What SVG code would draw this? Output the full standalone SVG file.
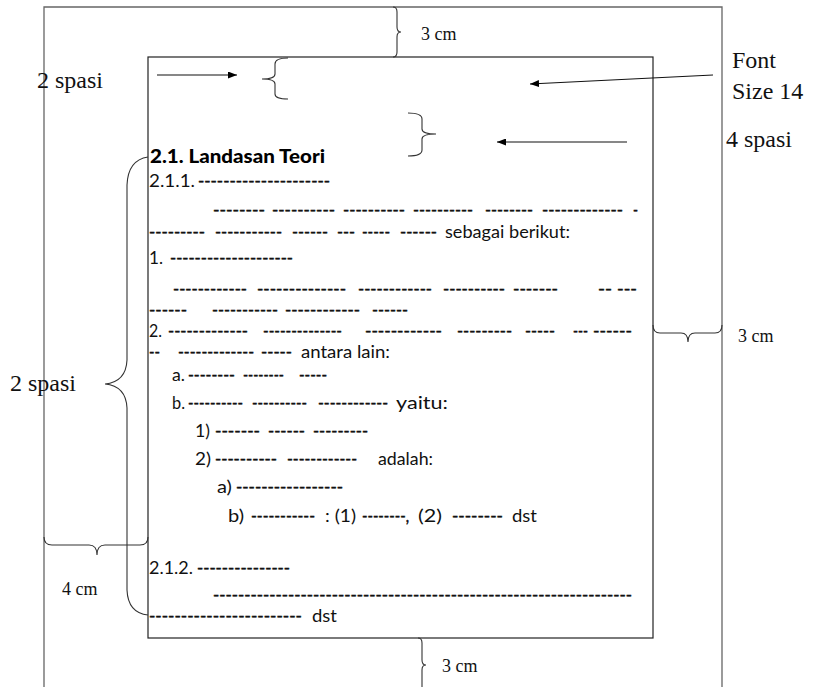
<svg xmlns="http://www.w3.org/2000/svg" width="814" height="687" viewBox="0 0 814 687">
<style>
.bg{fill:#fff}
.frame{fill:none;stroke:#666;stroke-width:1.3}
.page{fill:none;stroke:#222;stroke-width:1.2}
.br{fill:none;stroke:#333;stroke-width:1.1}
.ar{fill:none;stroke:#111;stroke-width:1.2}
.s{font-family:"Liberation Serif","Times New Roman",serif;fill:#111}
.l{font-size:24px}
.m{font-size:18px}
.b{font-family:Lato,"Open Sans",sans-serif;font-size:17.5px;fill:#111}
.d{stroke:#111;stroke-width:0.5}
.h{font-family:Lato,"Open Sans",sans-serif;font-size:19.5px;font-weight:900;fill:#000}
</style>
<defs>
<marker id="ah" markerUnits="userSpaceOnUse" markerWidth="9" markerHeight="7" viewBox="0 0 9 7" refX="9" refY="3.5" orient="auto">
<path d="M0,0 L9,3.5 L0,7 z" fill="#000"/>
</marker>
</defs>
<rect class="bg" x="0" y="0" width="814" height="687"/>
<g id="outer-page"><path class="frame" d="M44,687 L44,7 L722,7 L722,687"/></g>
<g id="text-area"><rect class="page" x="148" y="57" width="505" height="581"/></g>

<g id="connectors">
<path class="ar" d="M157,75 L237,75" marker-end="url(#ah)"/>
<path class="ar" d="M713,75 L530,84" marker-end="url(#ah)"/>
<path class="ar" d="M627,142 L497,142" marker-end="url(#ah)"/>
<path class="br" d="M393,7 Q397,7 397,12 L397,27 Q397,32 401,32 Q397,32 397,37 L397,52 Q397,57 393,57"/>
<path class="br" d="M288,58 Q275,58 275,64 L275,74 Q275,79 262,79 Q275,79 275,84 L275,94 Q275,99 288,99"/>
<path class="br" d="M408,113 Q422,113 422,119 L422,129 Q422,134 436,134 Q422,134 422,139 L422,150 Q422,156 408,156"/>
<path class="br" d="M148,157 Q128,160 127,185 L127,360 Q126,382 105,384 Q126,386 127,408 L127,590 Q128,613 148,615"/>
<path class="br" d="M44,537 Q44,545 52,545 L89,545 Q97,545 97,555 Q97,545 105,545 L140,545 Q148,545 148,537"/>
<path class="br" d="M653,325 Q653,333 660,333 L681,333 Q688,333 688,342 Q688,333 695,333 L715,333 Q722,333 722,325"/>
<path class="br" d="M418,638 Q422,638 422,643 L422,660 Q422,665 426,665 Q422,665 422,670 L422,687"/>
</g>

<g id="labels">
<text class="s m" x="421" y="40">3 cm</text>
<text class="s l" x="37" y="88">2 spasi</text>
<text class="s l" x="732" y="68">Font</text>
<text class="s l" x="732" y="99">Size 14</text>
<text class="s l" x="726" y="147">4 spasi</text>
<text class="s l" x="10" y="391">2 spasi</text>
<text class="s m" x="62" y="595">4 cm</text>
<text class="s m" x="738" y="342">3 cm</text>
<text class="s m" x="442" y="672">3 cm</text>
</g>

<g id="content">
<text class="h" x="150" y="163" textLength="175" lengthAdjust="spacingAndGlyphs">2.1. Landasan Teori</text>

<text class="b" x="149" y="187" textLength="46" lengthAdjust="spacingAndGlyphs">2.1.1.</text>
<text class="b d" x="198" y="187" textLength="132" lengthAdjust="spacingAndGlyphs">---------------------</text>

<text class="b d" x="213" y="216" textLength="52" lengthAdjust="spacingAndGlyphs">--------</text>
<text class="b d" x="272" y="216" textLength="63" lengthAdjust="spacingAndGlyphs">----------</text>
<text class="b d" x="343" y="216" textLength="62" lengthAdjust="spacingAndGlyphs">----------</text>
<text class="b d" x="413" y="216" textLength="60" lengthAdjust="spacingAndGlyphs">----------</text>
<text class="b d" x="485" y="216" textLength="48" lengthAdjust="spacingAndGlyphs">--------</text>
<text class="b d" x="542" y="216" textLength="81" lengthAdjust="spacingAndGlyphs">-------------</text>
<text class="b d" x="633" y="216" textLength="5" lengthAdjust="spacingAndGlyphs">-</text>

<text class="b d" x="149" y="238" textLength="56" lengthAdjust="spacingAndGlyphs">---------</text>
<text class="b d" x="215" y="238" textLength="67" lengthAdjust="spacingAndGlyphs">-----------</text>
<text class="b d" x="292" y="238" textLength="36" lengthAdjust="spacingAndGlyphs">------</text>
<text class="b d" x="337" y="238" textLength="18" lengthAdjust="spacingAndGlyphs">---</text>
<text class="b d" x="362" y="238" textLength="28" lengthAdjust="spacingAndGlyphs">-----</text>
<text class="b d" x="400" y="238" textLength="37" lengthAdjust="spacingAndGlyphs">------</text>
<text class="b" x="445" y="238" textLength="125" lengthAdjust="spacingAndGlyphs">sebagai berikut:</text>

<text class="b" x="149" y="264" textLength="14" lengthAdjust="spacingAndGlyphs">1.</text>
<text class="b d" x="170" y="264" textLength="123" lengthAdjust="spacingAndGlyphs">--------------------</text>

<text class="b d" x="173" y="295" textLength="74" lengthAdjust="spacingAndGlyphs">------------</text>
<text class="b d" x="257" y="295" textLength="89" lengthAdjust="spacingAndGlyphs">--------------</text>
<text class="b d" x="358" y="295" textLength="74" lengthAdjust="spacingAndGlyphs">------------</text>
<text class="b d" x="443" y="295" textLength="62" lengthAdjust="spacingAndGlyphs">----------</text>
<text class="b d" x="513" y="295" textLength="45" lengthAdjust="spacingAndGlyphs">-------</text>
<text class="b d" x="598" y="295" textLength="14" lengthAdjust="spacingAndGlyphs">--</text>
<text class="b d" x="617" y="295" textLength="20" lengthAdjust="spacingAndGlyphs">---</text>

<text class="b d" x="149" y="316" textLength="38" lengthAdjust="spacingAndGlyphs">------</text>
<text class="b d" x="212" y="316" textLength="66" lengthAdjust="spacingAndGlyphs">-----------</text>
<text class="b d" x="285" y="316" textLength="75" lengthAdjust="spacingAndGlyphs">------------</text>
<text class="b d" x="372" y="316" textLength="36" lengthAdjust="spacingAndGlyphs">------</text>

<text class="b" x="149" y="337" textLength="13" lengthAdjust="spacingAndGlyphs">2.</text>
<text class="b d" x="168" y="337" textLength="80" lengthAdjust="spacingAndGlyphs">-------------</text>
<text class="b d" x="263" y="337" textLength="79" lengthAdjust="spacingAndGlyphs">--------------</text>
<text class="b d" x="365" y="337" textLength="77" lengthAdjust="spacingAndGlyphs">------------</text>
<text class="b d" x="457" y="337" textLength="55" lengthAdjust="spacingAndGlyphs">---------</text>
<text class="b d" x="525" y="337" textLength="30" lengthAdjust="spacingAndGlyphs">-----</text>
<text class="b d" x="573" y="337" textLength="15" lengthAdjust="spacingAndGlyphs">---</text>
<text class="b d" x="593" y="337" textLength="39" lengthAdjust="spacingAndGlyphs">------</text>

<text class="b d" x="149" y="358" textLength="11" lengthAdjust="spacingAndGlyphs">--</text>
<text class="b d" x="178" y="358" textLength="76" lengthAdjust="spacingAndGlyphs">-------------</text>
<text class="b d" x="261" y="358" textLength="31" lengthAdjust="spacingAndGlyphs">-----</text>
<text class="b" x="301" y="358" textLength="89" lengthAdjust="spacingAndGlyphs">antara lain:</text>

<text class="b" x="172" y="381" textLength="13" lengthAdjust="spacingAndGlyphs">a.</text>
<text class="b d" x="188" y="381" textLength="47" lengthAdjust="spacingAndGlyphs">--------</text>
<text class="b d" x="243" y="381" textLength="41" lengthAdjust="spacingAndGlyphs">--------</text>
<text class="b d" x="299" y="381" textLength="28" lengthAdjust="spacingAndGlyphs">-----</text>

<text class="b" x="172" y="409" textLength="13" lengthAdjust="spacingAndGlyphs">b.</text>
<text class="b d" x="188" y="409" textLength="55" lengthAdjust="spacingAndGlyphs">----------</text>
<text class="b d" x="252" y="409" textLength="55" lengthAdjust="spacingAndGlyphs">----------</text>
<text class="b d" x="318" y="409" textLength="70" lengthAdjust="spacingAndGlyphs">------------</text>
<text class="b" x="396" y="409" textLength="52" lengthAdjust="spacingAndGlyphs">yaitu:</text>

<text class="b" x="195" y="437" textLength="15" lengthAdjust="spacingAndGlyphs">1)</text>
<text class="b d" x="215" y="437" textLength="45" lengthAdjust="spacingAndGlyphs">-------</text>
<text class="b d" x="268" y="437" textLength="37" lengthAdjust="spacingAndGlyphs">------</text>
<text class="b d" x="313" y="437" textLength="55" lengthAdjust="spacingAndGlyphs">---------</text>

<text class="b" x="195" y="465" textLength="16" lengthAdjust="spacingAndGlyphs">2)</text>
<text class="b d" x="215" y="465" textLength="62" lengthAdjust="spacingAndGlyphs">----------</text>
<text class="b d" x="287" y="465" textLength="70" lengthAdjust="spacingAndGlyphs">------------</text>
<text class="b" x="378" y="465" textLength="55" lengthAdjust="spacingAndGlyphs">adalah:</text>

<text class="b" x="217" y="493" textLength="15" lengthAdjust="spacingAndGlyphs">a)</text>
<text class="b d" x="236" y="493" textLength="107" lengthAdjust="spacingAndGlyphs">-----------------</text>

<text class="b" x="228" y="522" textLength="16" lengthAdjust="spacingAndGlyphs">b)</text>
<text class="b d" x="251" y="522" textLength="64" lengthAdjust="spacingAndGlyphs">-----------</text>
<text class="b" x="325" y="522" textLength="31" lengthAdjust="spacingAndGlyphs">: (1)</text>
<text class="b d" x="362" y="522" textLength="47" lengthAdjust="spacingAndGlyphs">--------,</text>
<text class="b" x="418" y="522" textLength="24" lengthAdjust="spacingAndGlyphs">(2)</text>
<text class="b d" x="452" y="522" textLength="51" lengthAdjust="spacingAndGlyphs">--------</text>
<text class="b" x="512" y="522" textLength="25" lengthAdjust="spacingAndGlyphs">dst</text>

<text class="b" x="149" y="574" textLength="44" lengthAdjust="spacingAndGlyphs">2.1.2.</text>
<text class="b d" x="197" y="574" textLength="93" lengthAdjust="spacingAndGlyphs">---------------</text>

<text class="b d" x="213" y="601" textLength="419" lengthAdjust="spacingAndGlyphs">-------------------------------------------------------------------</text>

<text class="b d" x="149" y="622" textLength="153" lengthAdjust="spacingAndGlyphs">------------------------</text>
<text class="b" x="312" y="622" textLength="25" lengthAdjust="spacingAndGlyphs">dst</text>
</g>
</svg>
